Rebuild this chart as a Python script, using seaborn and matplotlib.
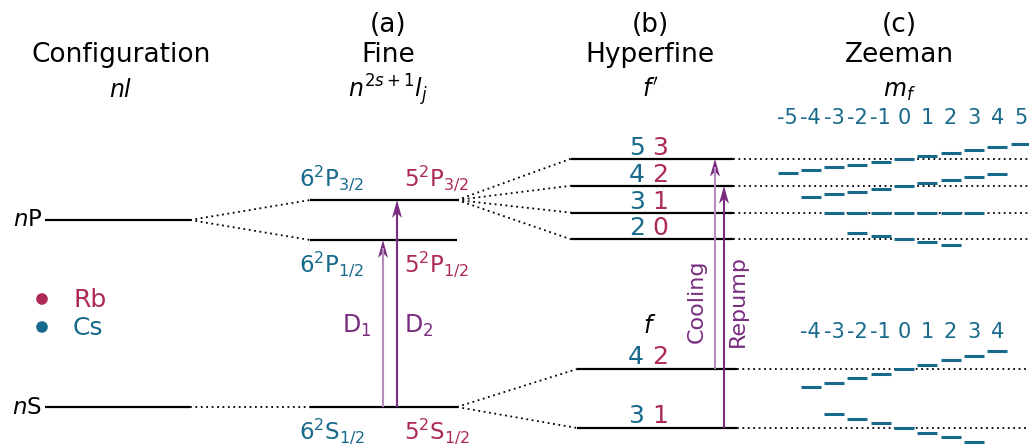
import matplotlib
matplotlib.use("Agg")
import matplotlib.pyplot as plt
import seaborn as sns
import pandas as pd
from matplotlib.patches import Polygon

sns.set_theme(style="white")
plt.rcParams["font.family"] = ["DejaVu Sans"]
plt.rcParams["mathtext.fontset"] = "dejavusans"
plt.rcParams["text.color"] = "black"

# ---- colours ----
CS = "#176a8b"
RB = "#ad2a54"
PURPLE = "#7a2c80"
PURPLE_LIGHT = "#b98abd"

# ---- level heights (diagram units, measured downward) ----
config_names = ["nP", "nS"]
config_y = [220, 407]

fine_y = [200, 240, 407]                       # P3/2, P1/2, S1/2
fine_cs = ["6$^2$P$_{3/2}$", "6$^2$P$_{1/2}$", "6$^2$S$_{1/2}$"]
fine_rb = ["5$^2$P$_{3/2}$", "5$^2$P$_{1/2}$", "5$^2$S$_{1/2}$"]

hf_up_y = [158.7, 185.7, 212.7, 239.3]
hf_up_cs = [5, 4, 3, 2]
hf_up_rb = [3, 2, 1, 0]
hf_up_slope = [2.9, 2.9, 0.0, -3.0]

hf_lo_y = [369, 428]
hf_lo_cs = [4, 3]
hf_lo_rb = [2, 1]
hf_lo_slope = [4.5, -4.6]

mf_top = [-5, -4, -3, -2, -1, 0, 1, 2, 3, 4, 5]
mf_bottom = [-4, -3, -2, -1, 0, 1, 2, 3, 4]

# column spans
X_CONF = (45, 190)
X_FINE = (310, 457)
X_HFU = (571, 733)
X_HFL = (577, 737)
X_END = 1029
MF0 = 904
MF_STEP = 23.3
DASH = 10

fig = plt.figure(figsize=(10.29, 4.46), dpi=100)
ax = fig.add_axes([0, 0, 1, 1])

LW = 1.6
DOT = dict(color="black", lw=1.3, linestyle=(0, (1, 2)))

# ---- configuration ----
for name, y in zip(config_names, config_y):
    ax.hlines(y, *X_CONF, color="black", lw=LW)
    ax.text(42, y, "$n$" + name[1], ha="right", va="center", fontsize=16.5)
# splitting into fine structure
for y in fine_y[:2]:
    ax.plot([X_CONF[1], X_FINE[0]], [config_y[0], y], **DOT)
ax.plot([X_CONF[1], X_FINE[0]], [config_y[1], fine_y[2]], **DOT)

# ---- fine structure ----
for y, lc, lr, k in zip(fine_y, fine_cs, fine_rb, range(3)):
    ax.hlines(y, *X_FINE, color="black", lw=LW)
    yy = y - 14 if k == 0 else y + 32
    ax.text(332, yy, lc, color=CS, ha="center", va="baseline", fontsize=16.5)
    ax.text(437, yy, lr, color=RB, ha="center", va="baseline", fontsize=16.5)

# splitting into hyperfine structure
for y in hf_up_y:
    ax.plot([X_FINE[1], X_HFU[0]], [fine_y[0], y], **DOT)
for y in hf_lo_y:
    ax.plot([X_FINE[1], X_HFL[0]], [fine_y[2], y], **DOT)

# ---- hyperfine structure ----
for y, c, r in zip(hf_up_y, hf_up_cs, hf_up_rb):
    ax.hlines(y, *X_HFU, color="black", lw=LW)
    ax.plot([X_HFU[1], X_END], [y, y], **DOT)
    ax.text(637, y - 4, str(c), color=CS, ha="center", va="baseline", fontsize=18)
    ax.text(660, y - 4, str(r), color=RB, ha="center", va="baseline", fontsize=18)
for y, c, r in zip(hf_lo_y, hf_lo_cs, hf_lo_rb):
    ax.hlines(y, *X_HFL, color="black", lw=LW)
    ax.plot([X_HFL[1], X_END], [y, y], **DOT)
    ax.text(636, y - 5, str(c), color=CS, ha="center", va="baseline", fontsize=18)
    ax.text(660, y - 5, str(r), color=RB, ha="center", va="baseline", fontsize=18)

# ---- Zeeman sublevels ----
rows = []
for y, F, s in zip(hf_up_y + hf_lo_y, hf_up_cs + hf_lo_cs, hf_up_slope + hf_lo_slope):
    for m in range(-F, F + 1):
        rows.append(dict(x=MF0 + m * MF_STEP, y=y - s * m))
zee = pd.DataFrame(rows)
ax.hlines(zee["y"], zee["x"] - DASH, zee["x"] + DASH, color=CS, lw=2.2)

for m in mf_top:
    ax.text(MF0 + m * MF_STEP, 124, str(m), color=CS, ha="center",
            va="baseline", fontsize=15)
for m in mf_bottom:
    ax.text(MF0 + m * MF_STEP, 338, str(m), color=CS, ha="center",
            va="baseline", fontsize=15)

# ---- transitions ----
def arrow(x, y0, y1, shaft):
    ax.vlines(x, y1 + 8, y0, color=shaft, lw=1.5)
    head = Polygon([(x, y1), (x - 5, y1 + 18), (x, y1 + 13), (x + 5, y1 + 18)],
                   closed=True, color=PURPLE, lw=0)
    ax.add_patch(head)

arrow(383, fine_y[2], fine_y[1], PURPLE_LIGHT)
arrow(397, fine_y[2], fine_y[0], PURPLE)
arrow(715, hf_lo_y[0], hf_up_y[0], PURPLE_LIGHT)
arrow(724, hf_lo_y[1], hf_up_y[1], PURPLE)

ax.text(357, 333, "D$_1$", color=PURPLE, ha="center", va="baseline", fontsize=17)
ax.text(419, 333, "D$_2$", color=PURPLE, ha="center", va="baseline", fontsize=17)
ax.text(697, 301, "Cooling", color=PURPLE, rotation=90, ha="center",
        va="center", fontsize=16)
ax.text(738, 301, "Repump", color=PURPLE, rotation=90, ha="center",
        va="center", fontsize=16)

# ---- column headers ----
headers = [(121, "", "Configuration", "$nl$"),
           (388, "(a)", "Fine", r"$n^{\mathit{2s+1}}l_j$"),
           (650, "(b)", "Hyperfine", "$f'$"),
           (899, "(c)", "Zeeman", "$m_f$")]
for x, tag, title, sym in headers:
    if tag:
        ax.text(x, 32, tag, color="black", ha="center", va="baseline", fontsize=19)
    ax.text(x, 62, title, color="black", ha="center", va="baseline", fontsize=19)
    ax.text(x, 97, sym, color="black", ha="center", va="baseline", fontsize=17)
ax.text(650, 333, "$f$", color="black", ha="center", va="baseline", fontsize=17)

# ---- species legend ----
legend = pd.DataFrame({"x": [42, 42], "y": [299, 327], "sp": ["Rb", "Cs"]})
sns.scatterplot(data=legend, x="x", y="y", hue="sp", palette={"Rb": RB, "Cs": CS},
                s=70, edgecolor="none", legend=False, ax=ax)
for y, sp, col in zip(legend["y"], legend["sp"], [RB, CS]):
    ax.text(73, y + 1, sp, color=col, ha="left", va="center", fontsize=18)

ax.set_xlim(0, 1029)
ax.set_ylim(446, 0)
ax.axis("off")

fig.savefig("out.png", dpi=100)
